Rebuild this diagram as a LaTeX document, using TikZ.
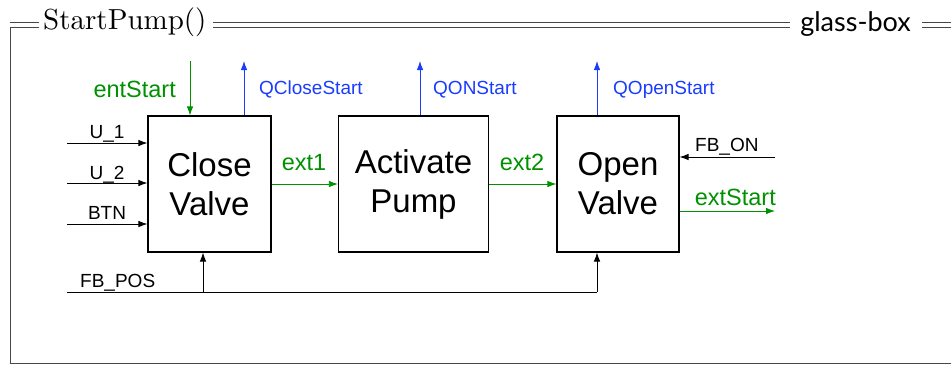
\documentclass[tikz,border=0pt]{standalone}
\usepackage{fontspec}
\usetikzlibrary{arrows.meta}
\newfontfamily\hvfont{Liberation Sans}
\newfontfamily\latofont{Lato}
\newfontfamily\lmten{lmroman10-regular.otf}
\definecolor{sgreen}{RGB}{0,145,0}
\definecolor{sblue}{RGB}{25,60,255}
\definecolor{framegray}{RGB}{70,70,70}
\tikzset{
  blk/.style={draw, line width=1.2pt, inner sep=0pt, minimum height=136pt, align=center,
    font=\hvfont\fontsize{33}{39}\selectfont},
  sig/.style={-{Latex[length=9pt,width=6.5pt]}, line width=0.8pt},
  lbl/.style={inner sep=0pt, font=\hvfont\fontsize{19}{20}\selectfont},
  biglbl/.style={inner sep=0pt, font=\hvfont\fontsize{23.5}{24}\selectfont},
  frameline/.style={draw=framegray, line width=0.9pt},
}
\begin{document}
\begin{tikzpicture}[x=1pt,y=-1pt]
\useasboundingbox (0,0) rectangle (951,365);
% frame
\node[anchor=base west, inner sep=0pt, font=\lmten\fontsize{29}{30}\selectfont] (title) at (43,29) {StartPump()};
\node[anchor=base east, inner sep=0pt, font=\latofont\fontsize{27}{28}\selectfont] (gb) at (911,31) {glass-box};
\draw[frameline] (9.5,22) -- (39,22);
\draw[frameline] (39,27) -- (10,27) -- (10,363) -- (951,363);
\draw[frameline] (213,22) -- (790,22) (213,27) -- (790,27);
\draw[frameline] (922,22) -- (951,22) (922,27) -- (951,27);
% blocks
\node[blk, minimum width=123pt] (cv) at (209.5,184) {Close\\Valve};
\node[blk, minimum width=150pt] (ap) at (413.5,184) {Activate\\Pump};
\node[blk, minimum width=122pt] (ov) at (618,184) {Open\\Valve};
% top signals
\coordinate (es) at (190,61);
\draw[sig, sgreen] (es) -- (es |- cv.north);
\node[biglbl, sgreen, anchor=base east] (esl) at (176,97) {entStart};
\coordinate (qc) at (244,61);
\draw[sig, sblue] (qc |- cv.north) -- (qc);
\node[lbl, sblue, anchor=base west] (qcl) at (259,94) {QCloseStart};
\coordinate (qo) at (420,61);
\draw[sig, sblue] (qo |- ap.north) -- (qo);
\node[lbl, sblue, anchor=base west] (qol) at (433,94) {QONStart};
\coordinate (qp) at (597,61);
\draw[sig, sblue] (qp |- ov.north) -- (qp);
\node[lbl, sblue, anchor=base west] (qpl) at (613,94) {QOpenStart};
% left inputs
\coordinate (u1) at (67,143);
\coordinate (u2) at (67,183);
\coordinate (bt) at (67,224);
\draw[sig] (u1) -- (u1 -| cv.west);
\draw[sig] (u2) -- (u2 -| cv.west);
\draw[sig] (bt) -- (bt -| cv.west);
\node[lbl, anchor=base] (u1l) at (107,138) {U\_1};
\node[lbl, anchor=base] (u2l) at (107,179) {U\_2};
\node[lbl, anchor=base] (btl) at (107,219) {BTN};
% internal
\draw[sig, sgreen] (cv.east) -- (ap.west);
\node[biglbl, sgreen, anchor=base] (e1l) at (304,170) {ext1};
\draw[sig, sgreen] (ap.east) -- (ov.west);
\node[biglbl, sgreen, anchor=base] (e2l) at (522,170) {ext2};
% right side
\coordinate (fo) at (775,157);
\draw[sig] (fo) -- (fo -| ov.east);
\node[lbl, anchor=base west] (fol) at (695,151) {FB\_ON};
\coordinate (xs) at (775,211);
\draw[sig, sgreen] (xs -| ov.east) -- (xs);
\node[biglbl, sgreen, anchor=base east] (xsl) at (776,205) {extStart};
% feedback
\coordinate (fp) at (67,292);
\coordinate (fpo) at (597,292);
\coordinate (br) at (203,292);
\draw[line width=0.8pt] (fp) -- (fpo);
\draw[sig] (fpo) -- (fpo |- ov.south);
\draw[sig] (br) -- (br |- cv.south);
\node[lbl, anchor=base west] (fpl) at (80,287) {FB\_POS};
\end{tikzpicture}
\end{document}
